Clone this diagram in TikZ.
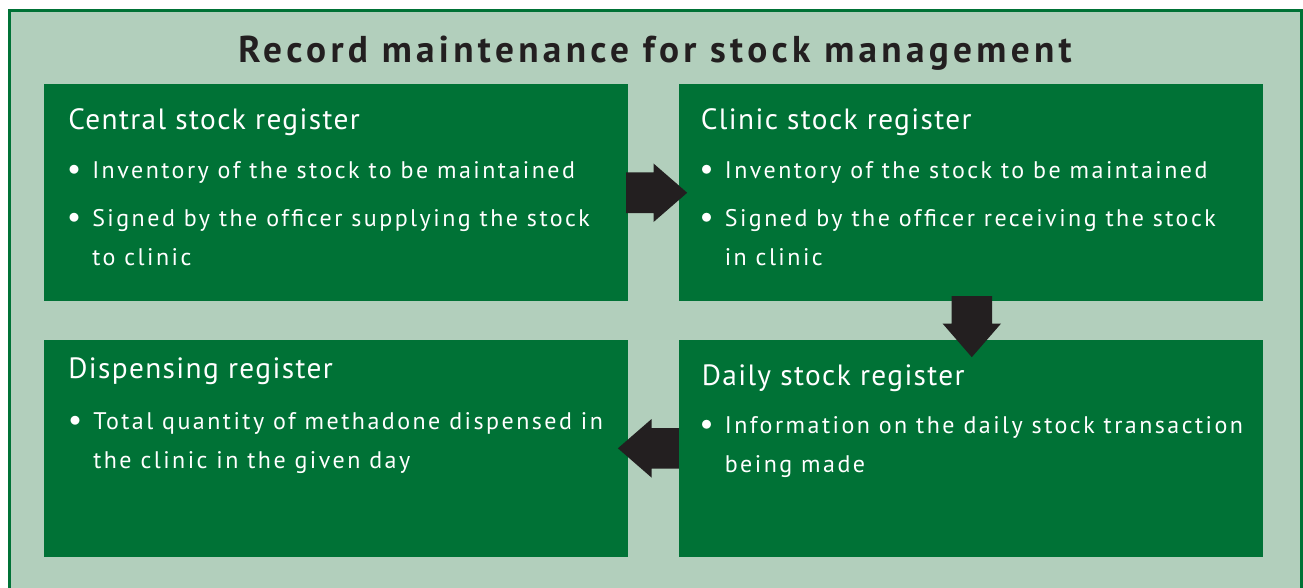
\documentclass[tikz,border=0pt]{standalone}
\usepackage{fontspec}
\setmainfont{PT Sans}
\usetikzlibrary{shapes.arrows, calc, positioning}

\definecolor{regGreen}{RGB}{0,114,54}
\definecolor{panelGreen}{RGB}{178,207,188}
\definecolor{arrowInk}{RGB}{35,31,32}

\newfontfamily\titlefont[LetterSpace=11.5]{PT Sans}
\newfontfamily\headfont[LetterSpace=4.7]{PT Sans}
\newfontfamily\listfont[LetterSpace=10.3]{PT Sans}
% bullet lists: \regpoint starts an item, \regline continues it
\newcommand{\regpoint}[1]{\hbox{\llap{\makebox[18pt][l]{\raisebox{2.5pt}{$\bullet$}}}#1}}
\newcommand{\regline}[1]{\hbox{#1}}
\newcommand{\reggap}{\vskip6.75pt}
\newcommand{\reglist}[1]{\vtop{\baselineskip=29.25pt #1}}

\tikzset{
  register box/.style={
    fill=regGreen,
    minimum width=438pt,
    minimum height=162.75pt,
    inner sep=0pt,
  },
  register head/.style={
    anchor=base west,
    inner sep=0pt,
    text=white,
    font=\headfont\fontsize{22}{26}\selectfont,
  },
  register list/.style={
    anchor=base west,
    inner sep=0pt,
    text=white,
    font=\listfont\fontsize{18}{29.25}\selectfont,
  },
  flow arrow/.style={
    single arrow,
    fill=arrowInk,
    inner xsep=0pt,
    inner ysep=15pt,
    minimum height=45.75pt,
    minimum width=43.5pt,
    single arrow head extend=6.75pt,
    single arrow tip angle=82,
  },
}

\begin{document}
\begin{tikzpicture}[x=0.75pt, y=-0.75pt]
      \useasboundingbox (0,0) rectangle (1303,588);
      \draw[fill=panelGreen, draw=regGreen, line width=2.25pt] (9,11) rectangle (1301,610);

      \node[anchor=base, text=arrowInk, font=\titlefont\fontsize{28}{32}\selectfont\bfseries] (title) at (655,63)
        {Record maintenance for stock management};

      % the four registers
      \node[register box, anchor=north west] (central) at (44,84) {};
      \node[register box, right=37.5pt of central] (clinic) {};
      \node[register box, below=28.5pt of central] (dispensing) {};
      \node[register box, below=28.5pt of clinic] (daily) {};

      \node[register head] (centralhead) at ($(central.north west)+(24,46)$) {Central stock register};
      \node[register list] (centrallist) at ($(central.north west)+(48,95)$) {\reglist{%
        \regpoint{Inventory of the stock to be maintained}\reggap
        \regpoint{Signed by the officer supplying the stock}
        \regline{to clinic}}};

      \node[register head] (clinichead) at ($(clinic.north west)+(22,46)$) {Clinic stock register};
      \node[register list] (cliniclist) at ($(clinic.north west)+(46,95)$) {\reglist{%
        \regpoint{Inventory of the stock to be maintained}\reggap
        \regpoint{Signed by the officer receiving the stock}
        \regline{in clinic}}};

      \node[register head] (dispensinghead) at ($(dispensing.north west)+(24,39)$) {Dispensing register};
      \node[register list] (dispensinglist) at ($(dispensing.north west)+(49,90)$) {\reglist{%
        \regpoint{Total quantity of methadone dispensed in}
        \regline{the clinic in the given day}}};

      \node[register head] (dailyhead) at ($(daily.north west)+(23,46)$) {Daily stock register};
      \node[register list] (dailylist) at ($(daily.north west)+(46,94)$) {\reglist{%
        \regpoint{Information on the daily stock transaction}
        \regline{being made}}};

      % arrows between the registers
      \node[flow arrow] (toclinic) at ($(central.east)!0.5!(clinic.west)+(-8.5,0)$) {};
      \node[flow arrow, rotate=-90] (todaily) at ($(clinic.south)!0.5!(daily.north)+(1,-5.5)$) {};
      \node[flow arrow, rotate=180] (todispensing) at ($(daily.west)!0.5!(dispensing.east)+(6.5,0)$) {};
    \end{tikzpicture}
\end{document}
